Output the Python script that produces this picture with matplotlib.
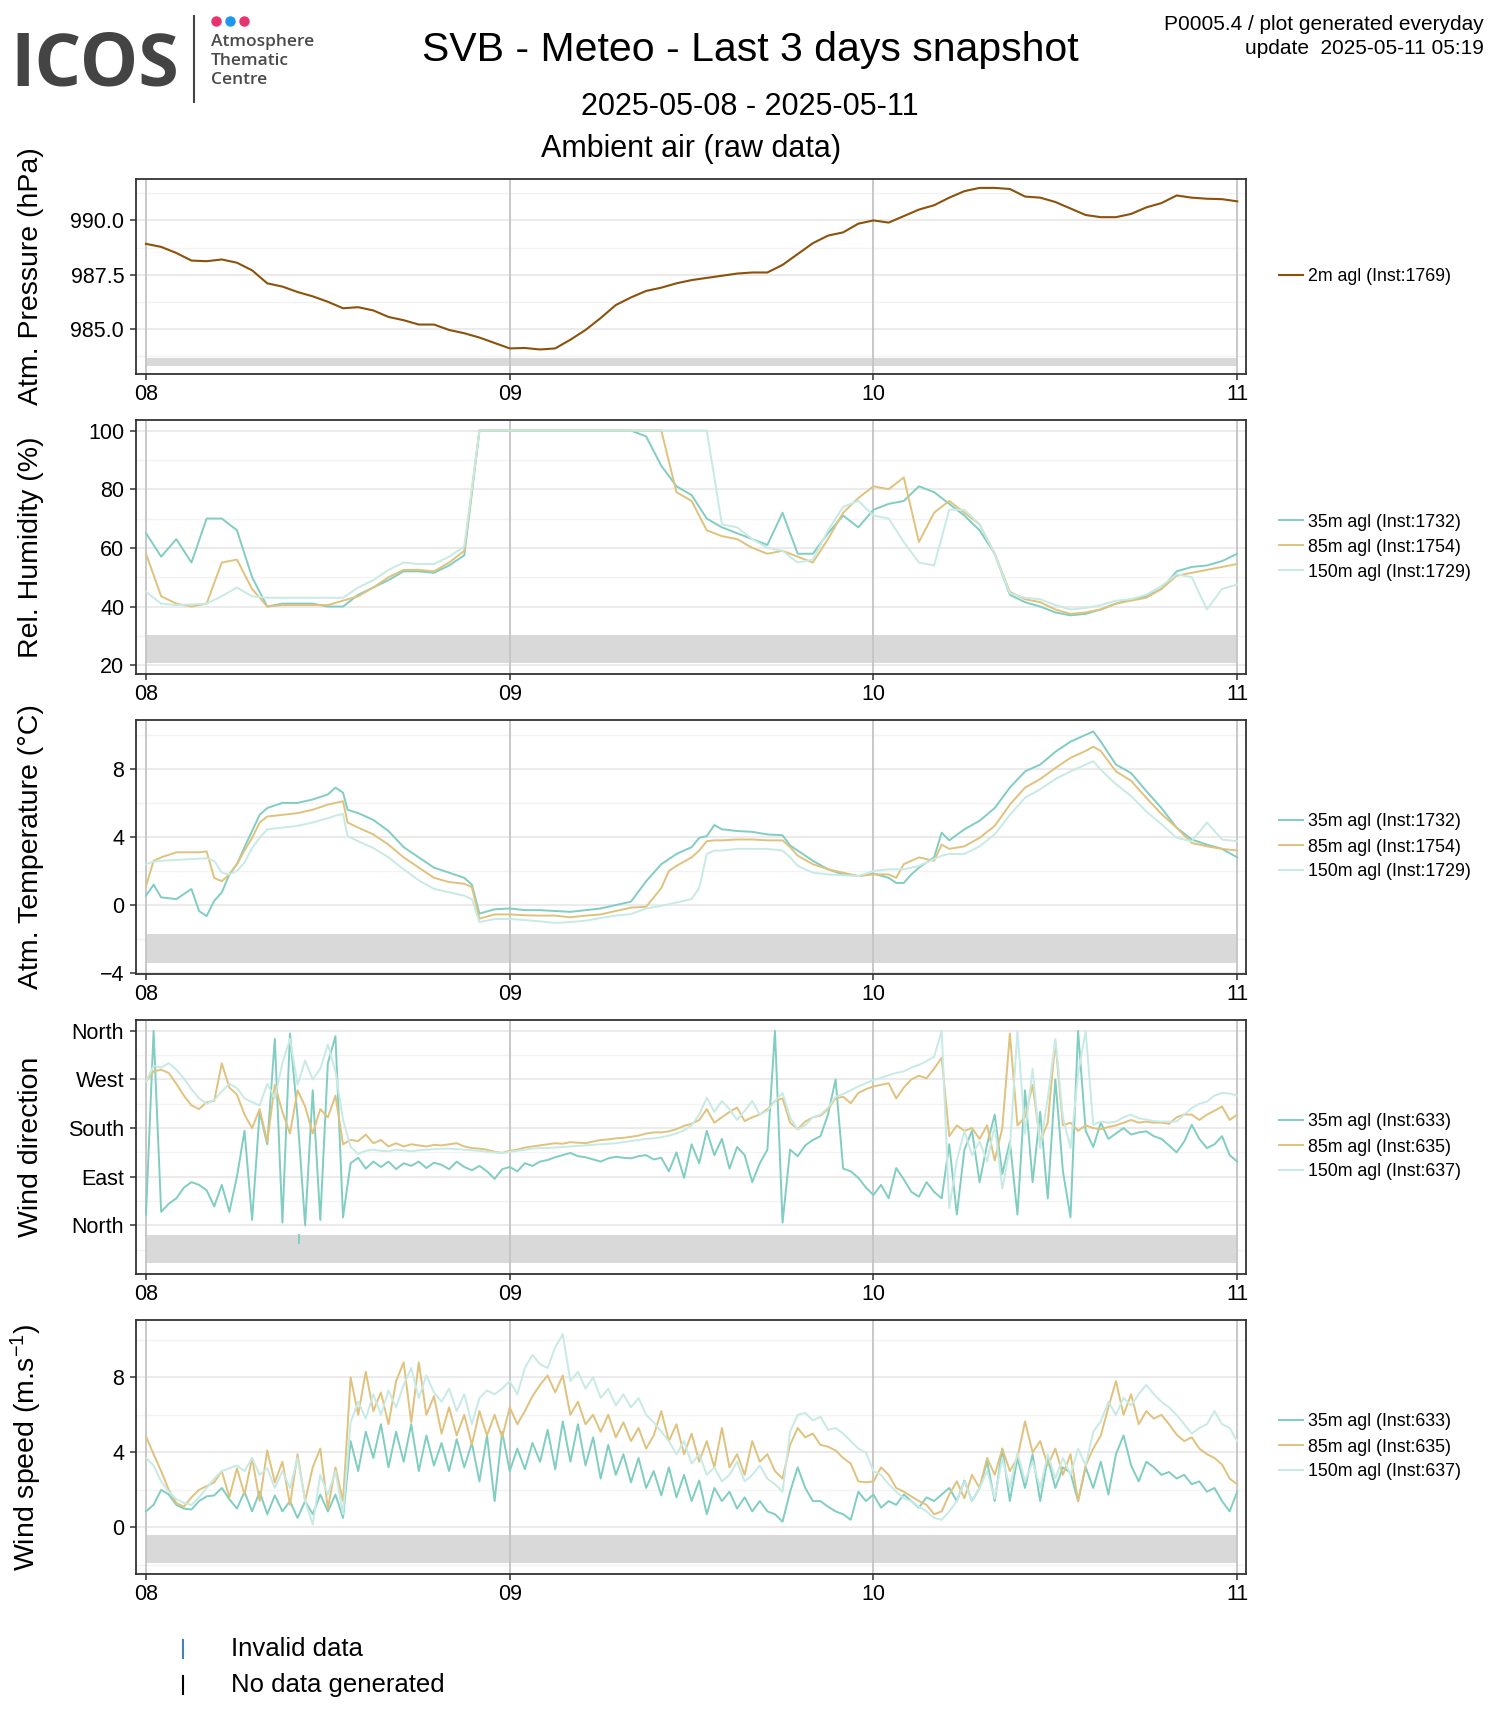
#!/usr/bin/env python3
"""SVB - Meteo - last 3 days snapshot (2025-05-08 .. 2025-05-11)"""
import numpy as np
import matplotlib
matplotlib.use("Agg")
import matplotlib.pyplot as plt
from matplotlib.lines import Line2D

W, H = 1500, 1725
FONT = "Liberation Sans"
plt.rcParams["font.family"] = [FONT, "DejaVu Sans"]
plt.rcParams["mathtext.fontset"] = "custom"
plt.rcParams["mathtext.rm"] = FONT
plt.rcParams["mathtext.it"] = FONT + ":italic"

# x axis: hours since 2025-05-08 00:00
DAY_TICKS  = [0, 24, 48, 72]
DAY_LABELS = ["08", "09", "10", "11"]

# pressure, hourly
PRESS_2M = [988.92, 988.78, 988.5, 988.15, 988.12, 988.2, 988.05, 987.7, 987.1, 986.95,
            986.7, 986.5, 986.25, 985.95, 986.0, 985.85, 985.55, 985.4, 985.2, 985.2,
            984.95, 984.8, 984.6, 984.35, 984.1, 984.12, 984.05, 984.1, 984.5, 984.95,
            985.5, 986.1, 986.45, 986.75, 986.9, 987.1, 987.25, 987.35, 987.45, 987.55,
            987.6, 987.6, 987.95, 988.45, 988.95, 989.3, 989.45, 989.85, 990.0, 989.9,
            990.2, 990.5, 990.7, 991.05, 991.35, 991.5, 991.5, 991.45, 991.1, 991.05,
            990.85, 990.55, 990.25, 990.15, 990.15, 990.3, 990.6, 990.8, 991.15, 991.05,
            991.0, 990.98, 990.88]

# relative humidity, hourly
RH_35 = [65, 57, 63, 55, 70, 70, 66, 50, 40, 41, 41, 41, 40, 40, 44, 46.5, 49, 52, 52, 51.5, 54, 57.5,
         100, 100, 100, 100, 100, 100, 100, 100, 100, 100, 100,
         98, 88, 81, 78, 70, 67, 65, 63, 61, 72, 58, 58, 65, 71, 67, 73, 75, 76, 81, 79, 75, 71,
         66, 58, 44, 41.5, 40, 38, 37, 37.5, 39, 41, 42.5, 43.5, 46, 52, 53.5, 54, 55.5, 58]
RH_85 = [58, 43.5, 41, 40, 41, 55, 56, 46, 40, 40.5, 40.5, 40.5, 40.5, 42, 43.5, 46.5, 50, 52.5, 52.5,
         52, 55, 59,
         100, 100, 100, 100, 100, 100, 100, 100, 100, 100, 100, 100, 100,
         79, 76, 66, 64, 63, 60, 58, 59, 57, 55, 63, 72, 77, 81, 80, 84, 62, 72, 76, 72, 68, 58, 45,
         42.5, 41.5, 39, 37.5, 38, 39, 41, 42, 43, 46, 50.5, 51.5, 52.5, 53.5, 54.5]
RH_150 = [45, 41, 40.5, 40.7, 41, 43.5, 46.5, 43.5, 43, 43, 43, 43, 43, 43, 46.5, 49, 52.5, 55, 54.5,
          54.5, 57, 60.5,
          100, 100, 100, 100, 100, 100, 100, 100, 100, 100, 100, 100, 100, 100, 100, 100,
          68, 67, 63, 60, 59, 55, 56, 66, 74, 76, 71, 70, 62, 55, 54, 73, 73, 68, 58, 44.5, 43,
          42.5, 40.5, 39, 39.5, 40.5, 42, 42.5, 44, 47, 51, 50, 39, 46, 47.5]

# temperature, irregular sampling (hours)
T_HOURS = [0, 0.5, 1, 2, 3, 3.5, 4, 4.5, 5, 5.5, 6, 6.5, 7, 7.5, 8, 9, 10, 11, 12, 12.5, 13, 13.3,
           14, 15, 16, 17, 18, 19, 20, 21, 21.5, 22, 23, 24, 25, 26, 27, 28, 29, 30, 31, 32, 33,
           34, 34.5, 35, 36, 36.5, 37, 37.5, 38, 39, 40, 41, 42, 42.5, 43, 44, 45, 46, 47, 48,
           49, 49.5, 50, 50.5, 51, 52, 52.5, 53, 54, 55, 56, 57, 58, 59, 60, 61, 62, 62.5, 63,
           64, 65, 66, 67, 68, 69, 70, 71, 72]
T_35 = [0.55, 1.2, 0.45, 0.35, 0.94, -0.35, -0.65, 0.25, 0.74, 1.8, 2.4, 3.4, 4.35, 5.3, 5.7,
        6.0, 6.0, 6.2, 6.5, 6.9, 6.6, 5.6, 5.4, 5.0, 4.35, 3.4, 2.8, 2.2, 1.9, 1.6, 1.2,
        -0.5, -0.25, -0.2, -0.3, -0.3, -0.35, -0.4, -0.3, -0.2, 0.0, 0.2, 1.4, 2.4, 2.7, 3.0, 3.4,
        3.95, 4.05, 4.7, 4.45, 4.35, 4.3, 4.15, 4.1, 3.5, 3.2, 2.6, 2.1, 1.8, 1.7, 1.85, 1.6,
        1.3, 1.3, 1.8, 2.2, 2.8, 4.25, 3.8, 4.45, 4.95, 5.7, 6.9, 7.85, 8.25, 9.0, 9.6, 10.0,
        10.2, 9.6, 8.25, 7.75, 6.7, 5.7, 4.55, 3.85, 3.55, 3.3, 2.8]
T_85 = [1.1, 2.6, 2.8, 3.1, 3.1, 3.1, 3.15, 1.6, 1.4, 1.8, 2.4, 3.2, 3.95, 4.85, 5.2,
        5.3, 5.4, 5.6, 5.9, 6.0, 6.1, 4.85, 4.55, 4.15, 3.55, 2.8, 2.2, 1.6, 1.35, 1.25, 1.05,
        -0.8, -0.55, -0.55, -0.6, -0.62, -0.62, -0.72, -0.62, -0.55, -0.35, -0.15, -0.1, 1.0, 2.0,
        2.3, 2.8, 3.2, 3.75, 3.8, 3.8, 3.85, 3.85, 3.8, 3.8, 3.4, 2.9, 2.4, 2.1, 1.9, 1.7, 1.8,
        1.8, 1.6, 2.4, 2.6, 2.8, 2.6, 3.55, 3.3, 3.45, 3.95, 4.65, 5.9, 6.9, 7.4, 8.05, 8.65,
        9.05, 9.3, 9.05, 7.85, 7.3, 6.3, 5.35, 4.55, 3.65, 3.45, 3.3, 3.2]
T_150 = [2.4, 2.55, 2.6, 2.65, 2.7, 2.72, 2.75, 2.6, 1.9, 1.8, 2.0, 2.5, 3.35, 3.95, 4.45,
         4.55, 4.65, 4.85, 5.1, 5.25, 5.35, 4.05, 3.75, 3.35, 2.8, 2.1, 1.45, 0.95, 0.75, 0.55, 0.35,
         -1.0, -0.82, -0.82, -0.88, -0.96, -1.05, -1.0, -0.92, -0.76, -0.62, -0.53, -0.2, -0.05,
         0.05, 0.15, 0.35, 1.0, 3.0, 3.2, 3.2, 3.3, 3.3, 3.3, 3.2, 2.8, 2.3, 1.9, 1.8, 1.75, 1.7,
         2.0, 2.1, 2.1, 2.1, 2.2, 2.3, 2.7, 2.9, 3.0, 3.0, 3.45, 4.15, 5.3, 6.3, 6.8, 7.4, 7.85,
         8.25, 8.45, 7.95, 7.1, 6.4, 5.5, 4.75, 3.95, 3.75, 4.85, 3.85, 3.75]

# wind direction (deg), every 30 min
WD_35 = [20, 360, 25, 40, 50, 70, 80, 75, 65, 35,
         75, 25, 90, 175, 10, 210, 150, 345, 5, 355,
         200, 0, 250, 10, 300, 350, 15, 115, 125, 105,
         118, 108, 118, 104, 115, 110, 118, 106, 116, 112,
         104, 118, 108, 102, 110, 100, 86, 104, 108, 100,
         115, 110, 118, 121, 126, 130, 134, 128, 126, 122,
         118, 124, 127, 125, 124, 128, 130, 122, 125, 100,
         135, 88, 150, 115, 175, 130, 160, 105, 145, 130,
         80, 115, 140, 360, 5, 140, 128, 148, 158, 165,
         205, 270, 105, 100, 88, 70, 56, 75, 50, 106,
         85, 62, 53, 80, 62, 50, 150, 20, 140, 175,
         80, 150, 205, 95, 155, 20, 250, 80, 210, 50,
         270, 100, 15, 360, 175, 145, 190, 160, 170, 180,
         168, 172, 174, 165, 160, 148, 135, 155, 186, 160,
         143, 150, 165, 130, 118]
WD_85 = [266, 285, 288, 282, 262, 240, 222, 215, 228, 230,
         300, 255, 242, 205, 180, 215, 155, 260, 210, 170,
         250, 220, 170, 215, 200, 240, 150, 158, 156, 168,
         152, 158, 146, 152, 146, 150, 148, 146, 149, 148,
         150, 152, 146, 143, 142, 140, 136, 134, 138, 140,
         144, 146, 148, 150, 152, 151, 154, 153, 152, 155,
         158, 159, 161, 162, 164, 166, 170, 172, 172, 174,
         178, 184, 188, 195, 215, 190, 200, 210, 218, 193,
         200, 205, 215, 230, 235, 190, 178, 192, 200, 203,
         215, 235, 238, 226, 245, 252, 257, 260, 263, 235,
         255, 270, 277, 272, 290, 310, 165, 185, 175, 180,
         160, 185, 120, 180, 355, 185, 200, 260, 155, 190,
         340, 185, 190, 175, 185, 180, 178, 182, 185, 190,
         195, 190, 192, 190, 190, 188, 200, 205, 205, 195,
         205, 212, 220, 195, 205]
WD_150 = [266, 295, 292, 300, 288, 272, 252, 235, 225, 232,
          248, 262, 254, 235, 228, 222, 262, 235, 300, 345,
          260, 305, 270, 290, 335, 285, 195, 145, 132, 138,
          140, 138, 137, 140, 139, 137, 139, 140, 141, 142,
          142, 141, 140, 139, 138, 136, 135, 134, 136, 138,
          140, 142, 143, 143, 144, 145, 146, 147, 148, 149,
          150, 151, 152, 154, 156, 158, 160, 161, 163, 166,
          170, 176, 185, 205, 236, 210, 230, 215, 195, 212,
          230, 205, 212, 230, 245, 200, 177, 185, 200, 205,
          218, 238, 243, 250, 257, 263, 269, 273, 278, 282,
          285, 292, 297, 304, 312, 360, 32, 120, 175, 130,
          155, 118, 185, 68, 143, 360, 170, 290, 143, 235,
          345, 200, 143, 280, 360, 186, 192, 190, 192, 200,
          205, 198, 196, 193, 192, 192, 192, 205, 217, 225,
          229, 240, 245, 244, 240]

# wind speed (m/s), every 30 min
WS_35 = [0.85, 1.2, 2.0, 1.75, 1.2, 1.0, 0.95, 1.4, 1.65, 1.7,
         2.1, 1.5, 1.0, 1.9, 0.85, 1.9, 0.7, 1.7, 0.85, 1.4,
         0.5, 1.4, 0.7, 1.75, 0.85, 1.75, 0.5, 4.6, 3.0, 5.1,
         3.7, 5.5, 3.2, 5.1, 3.5, 5.5, 3.0, 4.9, 3.3, 4.5,
         3.0, 4.7, 3.2, 4.5, 2.45, 4.9, 1.4, 5.1, 3.0, 4.2,
         3.1, 4.5, 3.5, 5.2, 3.1, 5.65, 3.5, 5.5, 3.3, 4.8,
         2.6, 4.4, 2.8, 3.9, 2.4, 3.7, 2.1, 3.0, 1.7, 3.2,
         1.6, 2.8, 1.4, 2.5, 0.7, 2.1, 1.4, 1.9, 1.0, 1.6,
         0.85, 1.4, 0.85, 0.7, 0.3, 1.9, 3.2, 2.1, 1.4, 1.4,
         1.1, 0.85, 0.7, 0.4, 1.9, 1.4, 1.75, 1.05, 1.4, 1.2,
         1.75, 1.4, 1.05, 1.6, 1.4, 1.75, 2.1, 1.4, 2.5, 1.4,
         2.1, 3.5, 1.4, 4.2, 1.4, 3.7, 2.1, 3.9, 1.4, 3.7,
         2.1, 3.2, 2.9, 1.4, 3.2, 2.1, 3.5, 1.75, 3.9, 4.9,
         3.3, 2.45, 3.5, 3.2, 2.8, 2.95, 2.6, 2.8, 2.3, 2.45,
         1.9, 2.1, 1.4, 0.85, 1.9]
WS_85 = [4.85, 3.9, 3.0, 2.0, 1.3, 1.1, 1.6, 2.0, 2.2, 2.4,
         3.0, 1.6, 3.15, 1.75, 3.7, 1.4, 4.1, 2.4, 3.5, 1.2,
         3.9, 1.4, 3.2, 4.2, 1.0, 3.2, 1.4, 8.0, 6.0, 8.3,
         6.2, 7.2, 5.5, 7.8, 8.8, 5.6, 8.8, 6.0, 7.0, 5.0,
         6.4, 4.9, 6.0, 4.4, 6.2, 4.9, 6.0, 4.8, 6.4, 5.5,
         6.2, 7.0, 7.6, 8.1, 7.2, 8.1, 6.0, 6.7, 5.5, 6.0,
         5.1, 6.0, 4.8, 5.6, 4.6, 5.3, 4.2, 4.9, 6.2, 4.6,
         5.5, 3.9, 5.0, 3.5, 4.6, 3.2, 5.3, 3.2, 3.9, 2.8,
         4.6, 3.5, 3.9, 3.0, 2.6, 4.4, 5.3, 4.8, 5.0, 4.4,
         4.3, 4.1, 3.7, 3.4, 2.45, 2.4, 2.45, 3.2, 2.8, 2.1,
         1.9, 1.65, 1.4, 1.2, 0.7, 0.85, 1.75, 2.45, 1.55, 2.8,
         2.1, 3.7, 2.8, 4.2, 3.0, 3.7, 5.65, 4.0, 4.6, 3.3,
         4.2, 2.8, 3.9, 1.4, 3.3, 4.2, 4.9, 6.4, 7.8, 6.0,
         7.1, 5.5, 6.2, 5.8, 6.0, 5.5, 4.95, 4.6, 4.8, 4.2,
         3.9, 3.7, 3.35, 2.6, 2.3]
WS_150 = [3.7, 3.3, 2.45, 1.9, 1.5, 1.3, 1.2, 1.6, 2.1, 2.6,
          3.0, 3.15, 3.3, 3.0, 3.7, 2.8, 3.15, 2.1, 3.0, 2.1,
          3.7, 1.4, 0.15, 2.8, 1.75, 3.0, 0.7, 5.6, 6.7, 5.8,
          7.1, 6.0, 7.3, 6.4, 7.6, 8.5, 6.9, 8.1, 7.2, 6.7,
          7.4, 6.2, 7.1, 5.5, 6.9, 7.3, 7.1, 7.4, 7.8, 7.1,
          8.5, 9.2, 8.7, 8.5, 9.6, 10.3, 7.8, 8.3, 7.4, 8.0,
          6.9, 7.4, 6.5, 7.1, 6.4, 6.9, 6.0, 5.6, 5.1, 4.6,
          3.9, 4.6, 3.4, 3.9, 2.8, 3.2, 2.45, 2.8, 3.5, 2.45,
          2.8, 3.3, 2.6, 2.3, 1.9, 5.1, 6.0, 6.1, 5.7, 5.9,
          5.2, 5.3, 5.0, 4.6, 4.2, 4.0, 3.0, 2.8, 2.3, 1.9,
          1.55, 1.4, 1.1, 0.85, 0.5, 0.4, 0.85, 1.4, 2.45, 1.4,
          2.1, 3.0, 1.55, 3.7, 2.1, 4.0, 2.45, 3.5, 2.1, 3.9,
          2.6, 3.7, 2.8, 4.2, 3.3, 5.1, 5.65, 6.7, 6.0, 6.9,
          6.5, 7.1, 7.6, 7.1, 6.7, 6.4, 6.0, 5.5, 5.0, 5.3,
          5.5, 6.2, 5.5, 5.3, 4.6]

LBL_TOWER = ["35m agl (Inst:1732)", "85m agl (Inst:1754)", "150m agl (Inst:1729)"]
LBL_SONIC = ["35m agl (Inst:633)", "85m agl (Inst:635)", "150m agl (Inst:637)"]
WD_TICKS  = [0, 90, 180, 270, 360]
WD_LABELS = ["North", "East", "South", "West", "North"]
FLAG_HOUR = 10.1   # single flag mark in wind direction strip

C_PRESS = "#8C510A"
C35, C85, C150 = "#80CDC1", "#DFC27D", "#C7EAE5"
BAND = "#D9D9D9"


def fx(x): return x / W
def fy(y): return 1 - y / H


def panel(fig, top, bottom):
    ax = fig.add_axes([fx(136), fy(bottom), fx(1246) - fx(136), (bottom - top) / H])
    ax.set_xlim(-0.66, 72.58)
    ax.set_xticks(DAY_TICKS); ax.set_xticklabels(DAY_LABELS)
    for s in ax.spines.values():
        s.set_color("#333333"); s.set_linewidth(1.3)
    ax.tick_params(axis="both", labelsize=15.5, color="#333333", width=1.1,
                   length=4.5, pad=3)
    ax.tick_params(axis="y", pad=4)
    ax.set_axisbelow(True)
    ax.grid(axis="y", which="major", color="#EBEBEB", lw=1.5)
    ax.grid(axis="y", which="minor", color="#F3F3F3", lw=1.0)
    ax.tick_params(axis="y", which="minor", length=0)
    for d in DAY_TICKS:
        ax.axvline(d, color="#C4C4C4", lw=1.3, zorder=1.5)
    ax.yaxis.set_label_coords(-0.083, 0.5)
    return ax


def finish(ax, ylabel, lo, hi, handles, labels):
    ax.fill_between([DAY_TICKS[0], DAY_TICKS[-1]], lo, hi, color=BAND, lw=0, zorder=1)
    ax.set_ylabel(ylabel, fontsize=20.5)
    ax.legend(handles, labels, loc="center left", bbox_to_anchor=(1.0297, 0.5),
              frameon=False, fontsize=12.8, handlelength=1.35, handletextpad=0.3,
              borderpad=0, borderaxespad=0, labelspacing=0.45)


def three(ax, t, s35, s85, s150):
    h = []
    for s, c in ((s35, C35), (s85, C85), (s150, C150)):
        ln, = ax.plot(t(s), s, color=c, lw=1.4, zorder=3)
        h.append(ln)
    return h


def hours(s): return np.linspace(0, 72, len(s))


fig = plt.figure(figsize=(W / 100, H / 100), dpi=100)

# header
fig.text(fx(750), fy(50), "SVB - Meteo - Last 3 days snapshot", fontsize=29.5,
         ha="center", va="center")
fig.text(fx(750), fy(107), "2025-05-08 - 2025-05-11", fontsize=22, ha="center", va="center")
fig.text(fx(691), fy(149), "Ambient air (raw data)", fontsize=22, ha="center", va="center")
fig.text(fx(1484), fy(24), "P0005.4 / plot generated everyday", fontsize=15,
         ha="right", va="center")
fig.text(fx(1484), fy(49), "update  2025-05-11 05:19", fontsize=15, ha="right", va="center")

# ICOS logo
fig.text(fx(10), fy(86), "ICOS", fontsize=53, fontweight="bold", color="#444444",
         family="Open Sans", ha="left", va="baseline")
fig.add_artist(Line2D([fx(194), fx(194)], [fy(16), fy(102)], color="#444444", lw=1.5,
                      transform=fig.transFigure))
for x, c in ((216, "#E8336E"), (230, "#1E96F0"), (244, "#E8336E")):
    fig.add_artist(Line2D([fx(x)], [fy(21)], marker="o", ms=6.5, color=c, lw=0,
                          transform=fig.transFigure))
for y, s in ((42, "Atmosphere"), (61, "Thematic"), (80, "Centre")):
    fig.text(fx(211), fy(y), s, fontsize=12.5, fontweight="semibold", color="#4A4A4A",
             family="Open Sans", ha="left", va="center")

# 1 - pressure
ax = panel(fig, 179, 374)
ln, = ax.plot(hours(PRESS_2M), PRESS_2M, color=C_PRESS, lw=1.5, zorder=3)
ax.set_ylim(982.92, 991.91)
ax.set_yticks([985.0, 987.5, 990.0]); ax.set_yticklabels(["985.0", "987.5", "990.0"])
ax.set_yticks([983.75, 986.25, 988.75, 991.25], minor=True)
finish(ax, "Atm. Pressure (hPa)", 983.30, 983.68, [ln], ["2m agl (Inst:1769)"])

# 2 - relative humidity
ax = panel(fig, 420, 674)
h = three(ax, hours, RH_35, RH_85, RH_150)
ax.set_ylim(17.0, 103.6)
ax.set_yticks([20, 40, 60, 80, 100]); ax.set_yticks([30, 50, 70, 90], minor=True)
finish(ax, "Rel. Humidity (%)", 20.7, 30.45, h, LBL_TOWER)

# 3 - temperature
ax = panel(fig, 720, 974)
h = three(ax, lambda s: T_HOURS, T_35, T_85, T_150)
ax.set_ylim(-4.05, 10.87)
ax.set_yticks([-4, 0, 4, 8]); ax.set_yticks([-2, 2, 6, 10], minor=True)
finish(ax, "Atm. Temperature (°C)", -3.38, -1.70, h, LBL_TOWER)

# 4 - wind direction
ax = panel(fig, 1020, 1274)
h = three(ax, hours, WD_35, WD_85, WD_150)
ax.vlines(FLAG_HOUR, -34.5, -16, color=C35, lw=1.4, zorder=3)
ax.set_ylim(-90, 380)
ax.set_yticks(WD_TICKS); ax.set_yticklabels(WD_LABELS)
ax.set_yticks([-45, 45, 135, 225, 315], minor=True)
finish(ax, "Wind direction", -70.3, -17.3, h, LBL_SONIC)

# 5 - wind speed
ax = panel(fig, 1320, 1574)
h = three(ax, hours, WS_35, WS_85, WS_150)
ax.set_ylim(-2.49, 11.06)
ax.set_yticks([0, 4, 8]); ax.set_yticks([-2, 2, 6, 10], minor=True)
finish(ax, r"Wind speed (m.s$^{-1}$)", -1.92, -0.39, h, LBL_SONIC)

# flag legend
for y, c, s in ((1649, "#4682B4", "Invalid data"), (1685, "#000000", "No data generated")):
    fig.add_artist(Line2D([fx(183), fx(183)], [fy(y - 9), fy(y + 9)], color=c, lw=1.5,
                          transform=fig.transFigure))
    fig.text(fx(231), fy(y), s, fontsize=18.5, ha="left", va="center")

fig.savefig("out.png", dpi=100)
plt.close(fig)
